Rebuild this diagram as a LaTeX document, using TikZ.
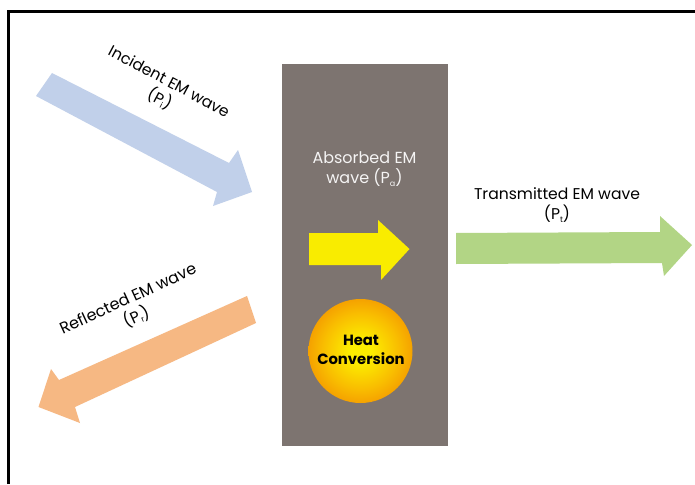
\documentclass[tikz,border=0pt]{standalone}
\usepackage{fontspec}
\setmainfont{Poppins}
\definecolor{blockgrey}{HTML}{7D7470}
\definecolor{incidentblue}{HTML}{C1D0EA}
\definecolor{reflectorange}{HTML}{F6B883}
\definecolor{transgreen}{HTML}{B2D585}
\definecolor{absyellow}{HTML}{F9EC00}
\definecolor{heatorange}{HTML}{F28E00}
\definecolor{heatmid}{HTML}{F9BE00}
\definecolor{heatyellow}{HTML}{FCEE00}
\pgfdeclareradialshading{heatglow}{\pgfpoint{0bp}{0bp}}{color(0bp)=(heatyellow); color(5bp)=(heatyellow); color(18bp)=(heatmid); color(30bp)=(heatorange); color(50bp)=(heatorange)}
\newcommand{\sbs}[1]{\raisebox{-0.3ex}{\fontsize{8}{8}\selectfont #1}}
\tikzset{
  lbl/.style={font=\fontsize{15.6}{20}\selectfont, align=center, inner sep=0pt, text=black},
}
\begin{document}
\begin{tikzpicture}[x=1pt,y=-1pt]
\useasboundingbox (0,0) rectangle (695,484);
\fill[white] (0,0) rectangle (695,484);
\draw[line width=3pt,black] (8.5,484) -- (8.5,12) -- (695,12);
\node[fill=blockgrey,draw=none,minimum width=166pt,minimum height=382pt,inner sep=0pt] (block) at (365,255) {};
\fill[incidentblue] (52,73) -- (229,163) -- (238,150) -- (252,192) -- (213,206) -- (217,192) -- (36,96) -- cycle;
\fill[reflectorange] (247,296) -- (59,380) -- (51,369) -- (38.5,407) -- (80,423) -- (75,407) -- (256,323) -- cycle;
\fill[transgreen] (456,233) -- (660,232) -- (660,216) -- (692,245) -- (664,276) -- (662,263) -- (456,264) -- cycle;
\fill[absyellow] (309,233) -- (378,233) -- (378,220) -- (409.5,249) -- (381,280) -- (381,265) -- (309,265) -- cycle;
\node[circle,minimum size=104pt,inner sep=0pt,shading=heatglow] (heat) at (360.5,351) {};
\node[lbl,font=\fontsize{14.8}{19}\selectfont\bfseries] (heattext) at (361,349.5) {Heat\\Conversion};
\node[lbl,rotate=-28] (inc) at (164,91) {Incident EM wave\\(P\sbs{i})};
\node[lbl,font=\fontsize{16}{20}\selectfont,rotate=24.7] (ref) at (132.5,308.5) {Reflected EM wave\\(P\sbs{r})};
\node[lbl,font=\fontsize{16}{20}\selectfont,text=white!92!blockgrey] (abs) at (364.5,169.5) {Absorbed EM\\wave (P\sbs{a})};
\node[lbl] (trans) at (557,205) {Transmitted EM wave\\(P\sbs{t})};
\end{tikzpicture}
\end{document}
